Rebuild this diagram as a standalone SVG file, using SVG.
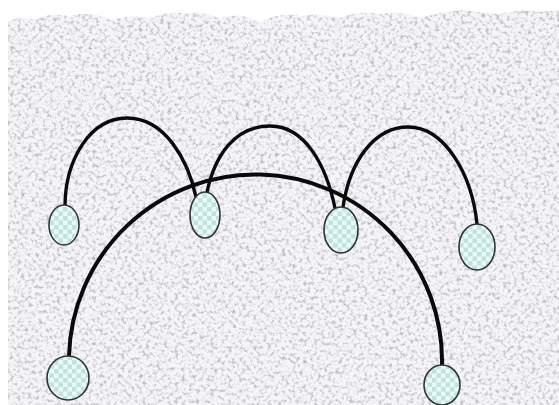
<svg xmlns="http://www.w3.org/2000/svg" width="559" height="405" viewBox="0 0 559 405">
  <defs>
    <filter id="granite" x="0" y="0" width="100%" height="100%">
      <feTurbulence type="fractalNoise" baseFrequency="0.28" numOctaves="3" seed="7" result="n"/>
      <feColorMatrix in="n" type="matrix" values="0 0 0 0 0.45  0 0 0 0 0.45  0 0 0 0 0.48  2.6 0 0 0 -1.25"/>
    </filter>
    <clipPath id="bgclip">
      <path d="M8,22 Q20,14 35,20 Q50,12 70,16 Q90,10 110,20 Q130,14 150,18 Q170,10 185,14 Q200,10 220,18 Q240,12 260,22 Q280,12 300,16 Q320,12 340,18 Q360,10 380,14 Q400,10 420,18 Q440,12 460,10 Q480,12 500,14 Q520,8 540,12 L559,10 L559,405 L8,405 Z"/>
    </clipPath>
    <pattern id="checker" width="9" height="9" patternUnits="userSpaceOnUse">
      <rect width="9" height="9" fill="#e8fbfa"/>
      <rect width="4.5" height="4.5" fill="#c2e2dd"/>
      <rect x="4.5" y="4.5" width="4.5" height="4.5" fill="#c2e2dd"/>
    </pattern>
  </defs>
  <style>
    .arc { fill: none; stroke: #0a0a0a; stroke-width: 3.4; stroke-linecap: round; }
    .big { stroke-width: 4; }
    .node { fill: url(#checker); stroke: #2e3432; stroke-width: 1.6; }
  </style>
  <rect width="559" height="405" fill="#ffffff"/>
  <g clip-path="url(#bgclip)">
    <rect x="8" y="0" width="551" height="405" fill="#f5f4f7"/>
    <rect x="8" y="0" width="551" height="405" filter="url(#granite)"/>
  </g>
  <g id="connectors">
    <path class="arc" d="M65,207 C65,160 90,118 127,118 C165,118 188,160 196,197"/>
    <path class="arc" d="M207,192 C215,155 235,126 270,126 C305,126 326,165 335,208"/>
    <path class="arc" d="M343,207 C350,160 375,127 408,127 C445,127 472,175 477,224"/>
    <path class="arc big" d="M69,356 A186 186 0 0 1 442,366"/>
  </g>
  <g id="node1"><ellipse class="node" cx="64" cy="225" rx="15" ry="20"/></g>
  <g id="node2"><ellipse class="node" cx="205" cy="215" rx="15" ry="23"/></g>
  <g id="node3"><ellipse class="node" cx="341" cy="230" rx="17" ry="23"/></g>
  <g id="node4"><ellipse class="node" cx="477" cy="247" rx="18" ry="23"/></g>
  <g id="node5"><ellipse class="node" cx="68" cy="378" rx="21" ry="22"/></g>
  <g id="node6"><ellipse class="node" cx="442" cy="385" rx="18" ry="20"/></g>
</svg>
